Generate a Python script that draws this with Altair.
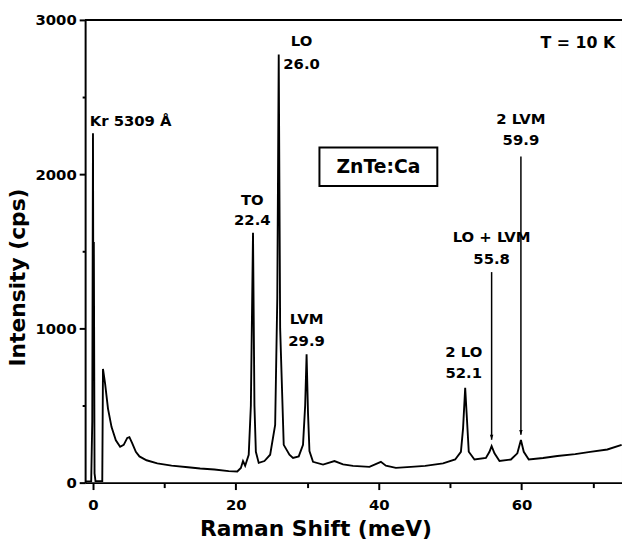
import altair as alt
import pandas as pd

# Raman spectrum (meV, counts per second)
shift = [-1.1, -0.25, -0.1, 0.0, 0.06, 0.12, 0.22, 0.35, 1.3, 1.4, 1.7, 2.1, 2.6, 3.2, 3.8,
         4.3, 4.8, 5.1, 5.5, 6.0, 6.5, 7.5, 9.0, 11.0, 13.3, 15.0, 17.0, 19.0, 20.2, 20.7,
         21.0, 21.3, 21.8, 22.1, 22.4, 22.6, 22.8, 23.2, 24.0, 24.8, 25.5, 25.8, 26.0, 26.2,
         26.7, 27.5, 28.0, 28.8, 29.4, 29.7, 29.9, 30.1, 30.3, 30.8, 32.2, 33.8, 35.0, 36.4,
         38.7, 40.3, 41.0, 42.4, 44.5, 46.5, 49.0, 50.7, 51.5, 51.8, 52.1, 52.3, 52.6, 53.4,
         55.0, 55.5, 55.8, 56.2, 56.9, 58.5, 59.4, 59.9, 60.3, 61.0, 63.0, 65.0, 67.5, 69.6,
         72.0, 74.0]
intensity = [8, 8, 400, 2265, 900, 1560, 60, 10, 10, 737, 640, 480, 360, 275, 232,
             245, 290, 295, 255, 200, 170, 145, 125, 110, 100, 92, 85, 75, 72, 95,
             140, 110, 180, 500, 1620, 500, 200, 128, 140, 181, 374, 1200, 2776, 1000,
             245, 181, 160, 170, 245, 500, 833, 450, 205, 135, 117, 140, 118, 109,
             102, 135, 110, 96, 102, 109, 125, 150, 200, 350, 615, 450, 200, 150,
             160, 200, 237, 190, 140, 150, 190, 277, 200, 150, 160, 173, 185, 199,
             215, 245]

# peak annotations (centered two-line labels)
label_text = ["LO", "26.0", "TO", "22.4", "LVM", "29.9", "2 LO", "52.1",
              "LO + LVM", "55.8", "2 LVM", "59.9"]
label_x = [29.2, 29.2, 22.3, 22.3, 29.9, 29.9, 51.9, 51.9, 55.8, 55.8, 59.9, 59.9]
label_y = [2860, 2715, 1833, 1705, 1058, 920, 846, 713, 1590, 1449, 2359, 2220]

# arrows pointing at weak peaks
arrow_x = [55.8, 59.9]
arrow_top = [1365, 2115]
arrow_tip = [278, 310]

spec = pd.DataFrame({"shift": shift, "intensity": intensity})
labels = pd.DataFrame({"x": label_x, "y": label_y, "t": label_text})
arrows = pd.DataFrame({"x": arrow_x, "y": arrow_top, "y2": arrow_tip})
kr = pd.DataFrame({"x": [-0.46], "y": [2343], "t": ["Kr 5309 Å"]})
temp = pd.DataFrame({"x": [73.1], "y": [2853], "t": ["T = 10 K"]})
sample = pd.DataFrame({"x": [31.7], "x2": [48.2], "y": [1923], "y2": [2173],
                       "cx": [39.95], "cy": [2048], "t": ["ZnTe:Ca"]})

FONT = "DejaVu Sans"
xs = alt.Scale(domain=[-1.1, 74.05], nice=False, zero=False)
ys = alt.Scale(domain=[0, 3000], nice=False)


def X(field):
    return alt.X(field, type="quantitative", scale=xs, axis=None)


def Y(field):
    return alt.Y(field, type="quantitative", scale=ys, axis=None)


line = alt.Chart(spec).mark_line(color="black", strokeWidth=1.9, clip=True).encode(
    x=alt.X("shift:Q", scale=xs,
            axis=alt.Axis(values=[0, 20, 40, 60], tickSize=7, tickWidth=2, domainWidth=2,
                          domainColor="black", tickColor="black", labelColor="black",
                          labelFont=FONT, labelFontSize=15, labelFontWeight="bold",
                          labelPadding=8, grid=False, orient="bottom", format="d",
                          title="Raman Shift (meV)", titleFont=FONT, titleFontSize=22,
                          titleFontWeight="bold", titleColor="black", titlePadding=6,
                          titleX=233)),
    y=alt.Y("intensity:Q", scale=ys,
            axis=alt.Axis(values=[0, 1000, 2000, 3000], tickSize=6, tickWidth=2, domainWidth=2,
                          domainColor="black", tickColor="black", labelColor="black",
                          labelFont=FONT, labelFontSize=15, labelFontWeight="bold",
                          labelPadding=3, grid=False, orient="left", format="d",
                          title="Intensity (cps)", titleFont=FONT, titleFontSize=22,
                          titleFontWeight="bold", titleColor="black", titlePadding=6,
                          titleY=260)),
)

minor = alt.Chart(spec).mark_line(opacity=0).encode(
    x=alt.X("shift:Q", scale=xs,
            axis=alt.Axis(values=[10, 30, 50, 70], tickSize=5, tickWidth=2, tickColor="black",
                          labels=False, domain=False, grid=False, title=None, orient="bottom")),
    y=alt.Y("intensity:Q", scale=ys,
            axis=alt.Axis(values=[500, 1500, 2500], tickSize=3, tickWidth=2, tickColor="black",
                          labels=False, domain=False, grid=False, title=None, orient="left")),
)

top = alt.Chart(spec).mark_rule(color="black", strokeWidth=2).encode(y=alt.datum(3000))

box = alt.Chart(sample).mark_rect(fill="white", stroke="black", strokeWidth=2).encode(
    x=X("x"), x2="x2:Q", y=Y("y"), y2="y2:Q")
box_text = alt.Chart(sample).mark_text(font=FONT, fontSize=19, fontWeight="bold",
                                       color="black", align="center", baseline="middle").encode(
    x=X("cx"), y=Y("cy"), text="t:N")

peak_text = alt.Chart(labels).mark_text(font=FONT, fontSize=15, fontWeight="bold",
                                        color="black", align="center", baseline="middle").encode(
    x=X("x"), y=Y("y"), text="t:N")
kr_text = alt.Chart(kr).mark_text(font=FONT, fontSize=15, fontWeight="bold",
                                  color="black", align="left", baseline="middle").encode(
    x=X("x"), y=Y("y"), text="t:N")
temp_text = alt.Chart(temp).mark_text(font=FONT, fontSize=16, fontWeight="bold",
                                      color="black", align="right", baseline="middle").encode(
    x=X("x"), y=Y("y"), text="t:N")

arrow_line = alt.Chart(arrows).mark_rule(color="black", strokeWidth=1.5).encode(
    x=X("x"), y=Y("y"), y2="y2:Q")
arrow_head = alt.Chart(arrows).mark_point(shape="M-0.35,-1L0.35,-1L0,0Z", size=100,
                                          filled=True, color="black", opacity=1).encode(
    x=X("x"), y=Y("y2"))

chart = alt.layer(line, minor, top, box, box_text, peak_text, kr_text, temp_text,
                  arrow_line, arrow_head).resolve_axis(
    x="independent", y="independent"
).properties(
    width=543, height=468,
    autosize=alt.AutoSizeParams(type="none"),
    padding={"left": 78, "top": 9, "right": 0, "bottom": 58},
).configure_view(stroke=None)

chart.save("out.html", embed_options={"renderer": "svg", "actions": False})
